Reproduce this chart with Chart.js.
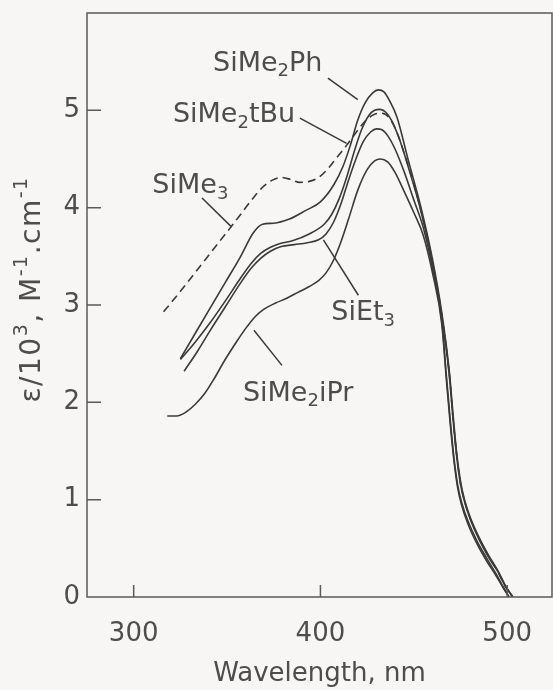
<!DOCTYPE html>
<html>
<head>
<meta charset="utf-8">
<script src="https://cdn.jsdelivr.net/npm/chart.js@4.4.1/dist/chart.umd.min.js"></script>
<style>
  html, body { margin: 0; padding: 0; background: #f8f5f5; }
</style>
</head>
<body>
<canvas id="absChart" width="553" height="690"></canvas>
<script>
// Absorption spectra, wavelength (nm) vs epsilon / 10^3 (M-1 cm-1)
const phNm  = [325, 333, 341, 349, 357, 364, 369, 375, 383, 392, 400, 407, 412, 416, 420, 424, 428, 431, 434, 437, 441, 447, 454, 460, 465, 469, 471, 473, 475, 477, 480, 485, 490, 495, 499, 503];
const phEps = [2.45, 2.71, 2.97, 3.23, 3.49, 3.74, 3.83, 3.84, 3.88, 3.97, 4.06, 4.23, 4.42, 4.64, 4.90, 5.08, 5.18, 5.21, 5.19, 5.10, 4.93, 4.49, 3.99, 3.47, 2.92, 2.32, 1.88, 1.47, 1.19, 1.01, 0.83, 0.61, 0.43, 0.27, 0.12, 0.0];

const tbuNm  = [325, 333, 341, 349, 357, 363, 368, 373, 378, 385, 394, 402, 406, 410, 414, 418, 422, 426, 429, 432, 435, 438, 442, 447, 454, 460, 465, 469, 471, 473, 475, 477, 480, 485, 490, 495, 499, 503];
const tbuEps = [2.44, 2.62, 2.82, 3.04, 3.27, 3.43, 3.53, 3.59, 3.63, 3.66, 3.73, 3.83, 3.93, 4.09, 4.31, 4.57, 4.80, 4.95, 5.00, 5.01, 4.98, 4.90, 4.72, 4.42, 3.95, 3.43, 2.88, 2.28, 1.83, 1.44, 1.16, 0.99, 0.81, 0.59, 0.41, 0.26, 0.11, 0.0];

const me3Nm  = [316, 325, 334, 343, 352, 358, 364, 369, 374, 379, 384, 389, 394, 399, 404, 409, 414, 419, 424, 429, 433, 437, 441, 447, 454, 460, 465, 469, 471, 473, 475, 477, 480, 485, 490, 495, 499, 503];
const me3Eps = [2.93, 3.14, 3.36, 3.58, 3.80, 3.95, 4.10, 4.21, 4.28, 4.31, 4.29, 4.26, 4.27, 4.31, 4.40, 4.52, 4.64, 4.77, 4.89, 4.96, 4.97, 4.92, 4.77, 4.43, 3.96, 3.44, 2.89, 2.29, 1.84, 1.45, 1.17, 1.00, 0.82, 0.60, 0.42, 0.26, 0.11, 0.0];

const et3Nm  = [327, 334, 341, 349, 357, 363, 368, 373, 379, 386, 393, 399, 403, 407, 411, 415, 419, 423, 427, 430, 433, 436, 440, 445, 450, 455, 460, 465, 467.5, 469.5, 471.5, 473.5, 475.5, 479, 484, 489, 494, 498, 501];
const et3Eps = [2.32, 2.52, 2.74, 2.98, 3.22, 3.38, 3.48, 3.55, 3.60, 3.62, 3.64, 3.67, 3.73, 3.85, 4.04, 4.28, 4.50, 4.68, 4.78, 4.81, 4.80, 4.74, 4.60, 4.36, 4.08, 3.80, 3.38, 2.84, 2.26, 1.82, 1.43, 1.15, 0.98, 0.78, 0.57, 0.40, 0.24, 0.10, 0.0];

const iprNm  = [318, 323, 328, 333, 338, 343, 349, 355, 360, 365, 370, 376, 382, 388, 394, 399, 403, 407, 411, 415, 420, 425, 429, 432, 436, 440, 445, 450, 455, 460, 465, 467.5, 469.5, 471.5, 473.5, 475.5, 479, 484, 489, 494, 498, 501];
const iprEps = [1.86, 1.86, 1.90, 1.98, 2.09, 2.24, 2.44, 2.62, 2.76, 2.88, 2.96, 3.02, 3.07, 3.13, 3.19, 3.25, 3.33, 3.46, 3.65, 3.88, 4.18, 4.39, 4.48, 4.50, 4.47, 4.36, 4.16, 3.95, 3.72, 3.33, 2.80, 2.22, 1.78, 1.40, 1.12, 0.95, 0.75, 0.54, 0.37, 0.22, 0.09, 0.0];

const xTicks = [300, 400, 500];
const yTicks = [0, 1, 2, 3, 4, 5];

const FONT = '"DejaVu Sans", sans-serif';
const textColor = '#4d4d4d';
const inkColor = '#3a3a3a';

const toPoints = (xs, ys) => xs.map((v, i) => ({ x: v, y: ys[i] }));

function curve(label, xs, ys, dash) {
  return {
    label,
    data: toPoints(xs, ys),
    borderColor: inkColor,
    borderWidth: 1.6,
    borderDash: dash || [],
    pointRadius: 0,
    fill: false,
    cubicInterpolationMode: 'monotone'
  };
}

// compound names with leader lines, placed in data coordinates
const notes = [
  { parts: [['SiMe'], ['2', 1], ['Ph']],  at: [342.5, 5.48], from: [404, 5.33], to: [420, 5.11] },
  { parts: [['SiMe'], ['2', 1], ['tBu']], at: [321, 4.95],   from: [389, 4.92], to: [414, 4.66] },
  { parts: [['SiMe'], ['3', 1]],          at: [310, 4.22],   from: [336.6, 4.10], to: [352.5, 3.80] },
  { parts: [['SiEt'], ['3', 1]],          at: [405.8, 2.92], from: [420.3, 3.10], to: [401.6, 3.67] },
  { parts: [['SiMe'], ['2', 1], ['iPr']], at: [358.5, 2.09], from: [379.4, 2.38], to: [364.4, 2.74] }
];

// y-axis title with real superscripts
const yTitle = [['ε/10'], ['3', -1], [', M'], ['-1', -1], ['.cm'], ['-1', -1]];

// drop the half-label padding the scales reserve at their ends
const noEndPadding = s => {
  s.paddingTop = 0;
  s.paddingBottom = 0;
  s.paddingLeft = 0;
  s.paddingRight = 0;
};

// draws [text, shift] runs left to right; shift 1 = subscript, -1 = superscript
function drawRuns(ctx, runs, x, y, size) {
  runs.forEach(([s, shift]) => {
    const small = shift ? Math.round(size * 0.68) : size;
    ctx.font = small + 'px ' + FONT;
    const dy = shift === 1 ? size * 0.3 : shift === -1 ? -size * 0.38 : 0;
    ctx.fillText(s, x, y + dy);
    x += ctx.measureText(s).width;
  });
}

function runsWidth(ctx, runs, size) {
  return runs.reduce((w, [s, shift]) => {
    ctx.font = (shift ? Math.round(size * 0.68) : size) + 'px ' + FONT;
    return w + ctx.measureText(s).width;
  }, 0);
}

const chartFrame = {
  id: 'chartFrame',
  beforeDraw(chart) {
    const { ctx, width, height } = chart;
    ctx.save();
    ctx.fillStyle = '#f8f5f5';
    ctx.fillRect(0, 0, width, height);
    ctx.restore();
  },
  afterDraw(chart) {
    const { ctx, chartArea: a, scales: { x, y } } = chart;
    ctx.save();
    ctx.strokeStyle = '#5a5a5a';
    ctx.lineWidth = 1.5;
    ctx.strokeRect(a.left, a.top, a.right - a.left, a.bottom - a.top);
    // inward tick marks
    ctx.beginPath();
    y.ticks.forEach(t => {
      if (t.value === 0) return;
      const py = y.getPixelForValue(t.value);
      ctx.moveTo(a.left, py);
      ctx.lineTo(a.left + 14, py);
    });
    x.ticks.forEach(t => {
      const px = x.getPixelForValue(t.value);
      ctx.moveTo(px, a.bottom);
      ctx.lineTo(px, a.bottom - 12);
    });
    ctx.stroke();

    // rotated y title
    const size = 28;
    ctx.fillStyle = textColor;
    ctx.textBaseline = 'middle';
    ctx.letterSpacing = '1.5px';
    ctx.translate(33, y.getPixelForValue(3.16));
    ctx.rotate(-Math.PI / 2);
    drawRuns(ctx, yTitle, -runsWidth(ctx, yTitle, size) / 2, 0, size);
    ctx.restore();
  }
};

const compoundLabels = {
  id: 'compoundLabels',
  afterDatasetsDraw(chart) {
    const { ctx, scales: { x, y } } = chart;
    ctx.save();
    ctx.fillStyle = textColor;
    ctx.strokeStyle = inkColor;
    ctx.lineWidth = 1.5;
    ctx.textBaseline = 'middle';
    notes.forEach(n => {
      drawRuns(ctx, n.parts, x.getPixelForValue(n.at[0]), y.getPixelForValue(n.at[1]), 27);
      ctx.beginPath();
      ctx.moveTo(x.getPixelForValue(n.from[0]), y.getPixelForValue(n.from[1]));
      ctx.lineTo(x.getPixelForValue(n.to[0]), y.getPixelForValue(n.to[1]));
      ctx.stroke();
    });
    ctx.restore();
  }
};

new Chart(document.getElementById('absChart').getContext('2d'), {
  type: 'line',
  data: {
    datasets: [
      curve('SiMe2Ph', phNm, phEps),
      curve('SiMe2tBu', tbuNm, tbuEps),
      curve('SiMe3', me3Nm, me3Eps, [8, 5]),
      curve('SiEt3', et3Nm, et3Eps),
      curve('SiMe2iPr', iprNm, iprEps)
    ]
  },
  options: {
    responsive: false,
    animation: false,
    layout: { padding: { top: 13, right: 1, bottom: 0, left: 0 } },
    plugins: {
      legend: { display: false },
      tooltip: { enabled: false }
    },
    scales: {
      x: {
        type: 'linear',
        min: 275,
        max: 524,
        afterBuildTicks: s => { s.ticks = xTicks.map(v => ({ value: v })); },
        afterFit: s => { s.height = 93; noEndPadding(s); },
        grid: { display: false, drawTicks: false },
        border: { display: false },
        ticks: { color: textColor, font: { family: FONT, size: 26 }, padding: 22, maxRotation: 0, autoSkip: false },
        title: {
          display: true,
          text: 'Wavelength, nm',
          color: textColor,
          font: { family: FONT, size: 26 },
          padding: { top: 0, bottom: 0 }
        }
      },
      y: {
        type: 'linear',
        min: 0,
        max: 6,
        afterBuildTicks: s => { s.ticks = yTicks.map(v => ({ value: v })); },
        afterFit: s => { s.width = 87; noEndPadding(s); },
        grid: { display: false, drawTicks: false },
        border: { display: false },
        ticks: { color: textColor, font: { family: FONT, size: 26 }, padding: 7 },
        title: { display: false }
      }
    }
  },
  plugins: [chartFrame, compoundLabels]
});
</script>
</body>
</html>
